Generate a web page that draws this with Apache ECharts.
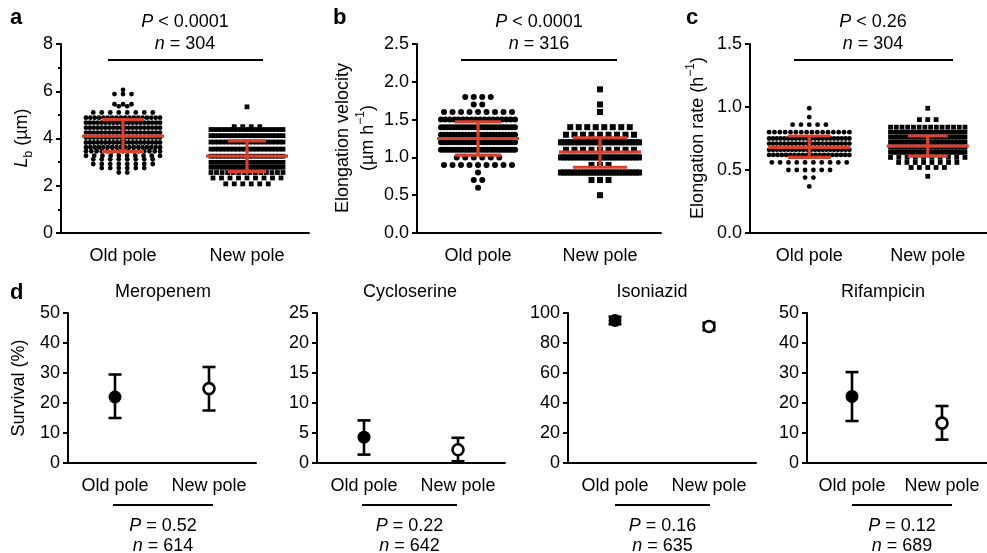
<!DOCTYPE html>
<html>
<head>
<meta charset="utf-8">
<script src="https://cdn.jsdelivr.net/npm/echarts@6.0.0/dist/echarts.min.js"></script>
<title>Old pole / new pole</title>
</head>
<body style="margin:0">
<div id="container" style="width:987px;height:553px"></div>
<script>
var groups = ['Old pole', 'New pole'];

// dot plots: rows of [value, number of cells]
var lbOld = [[6.06,1],[5.88,3],[5.45,3],[5.36,2],[5.1,8],[4.88,18],[4.67,20],[4.46,20],[4.25,20],[4.04,20],[3.83,20],[3.63,18],[3.46,15],[3.27,10],[3.12,8],[2.92,8],[2.75,6],[2.56,2]];
var lbNew = [[5.34,1],[4.5,4],[4.38,18],[4.12,20],[3.85,20],[3.55,20],[3.25,20],[2.99,20],[2.78,18],[2.56,14],[2.33,9],[2.08,6]];
var lbStats = [[4.1, 3.45, 4.8], [3.25, 2.6, 3.9]];          // mean, mean-SD, mean+SD

var velOld = [[1.8,4],[1.7,2],[1.6,9],[1.5,18],[1.4,25],[1.3,25],[1.2,25],[1.1,28],[1.0,6],[0.9,9],[0.8,1],[0.7,2],[0.6,1]];
var velNew = [[1.9,1],[1.7,1],[1.6,1],[1.4,8],[1.3,9],[1.2,24],[1.1,9],[1.0,25],[0.9,3],[0.8,25],[0.7,3],[0.5,1]];
var velStats = [[1.25, 1.03, 1.47], [1.07, 0.87, 1.26]];

var rateOld = [[0.99,1],[0.92,1],[0.86,5],[0.8,16],[0.75,22],[0.71,22],[0.66,22],[0.62,20],[0.56,10],[0.5,6],[0.44,2],[0.37,1]];
var rateNew = [[0.99,1],[0.9,3],[0.84,14],[0.8,20],[0.76,22],[0.72,22],[0.68,22],[0.64,20],[0.6,10],[0.56,8],[0.52,5],[0.45,1]];
var rateStats = [[0.68, 0.6, 0.77], [0.69, 0.61, 0.77]];

var topMax = [8, 2.5, 1.5];
var topInterval = [2, 0.5, 0.5];
var topP = ['< 0.0001', '< 0.0001', '< 0.26'];
var topN = [304, 316, 304];

// survival: [mean, low, high] in %
var drugs = ['Meropenem', 'Cycloserine', 'Isoniazid', 'Rifampicin'];
var survOld = [[22, 15, 29.5], [4.3, 1.4, 7.1], [95, 92.5, 97.5], [22.2, 14, 30.3]];
var survNew = [[24.8, 17.5, 32], [2.2, 0.3, 4.2], [91, 88.5, 93.5], [13.3, 7.8, 19]];
var survMax = [50, 25, 100, 50];
var survInterval = [10, 5, 20, 10];
var survP = ['0.52', '0.22', '0.16', '0.12'];
var survN = [614, 642, 635, 689];

var FONT = 'Liberation Sans, Arial, Helvetica, sans-serif';
var RED = '#d8412d';

var topGrids = [
  {left: 61, top: 44, width: 248, height: 189},
  {left: 417, top: 44, width: 244, height: 189},
  {left: 750, top: 44, width: 242, height: 189}
];
var botGrids = [
  {left: 68, top: 313, width: 188, height: 150},
  {left: 317, top: 313, width: 188, height: 150},
  {left: 568, top: 313, width: 188, height: 150},
  {left: 807, top: 313, width: 188, height: 150}
];
var topRows = [[lbOld, lbNew], [velOld, velNew], [rateOld, rateNew]];
var topStats = [lbStats, velStats, rateStats];
var dotSize = [4.8, 6, 4.8];
var spread = [[74, 72], [74, 78], [82, 76]];
var capW = [[42, 38], [46, 54], [43, 40]];

// spread equal values side by side around the group centre
function swarm(rows, idx, gridW, maxW, maxStep) {
  var unit = gridW / 2;
  var pts = [];
  rows.forEach(function (r) {
    var n = r[1];
    var step = n > 1 ? Math.min(maxStep, maxW / (n - 1)) : 0;
    for (var i = 0; i < n; i++) {
      pts.push([idx + (i - (n - 1) / 2) * step / unit, r[0]]);
    }
  });
  return pts;
}

function hline(c, w, st) {
  return {type: 'line', shape: {x1: c[0] - w / 2, y1: c[1], x2: c[0] + w / 2, y2: c[1]}, style: st};
}

function barItem(meanW, caps, color, lw) {
  return function (params, api) {
    var x = api.value(0);
    var m = api.coord([x, api.value(1)]);
    var lo = api.coord([x, api.value(2)]);
    var hi = api.coord([x, api.value(3)]);
    var st = {stroke: color, lineWidth: lw};
    var cw = caps[params.dataIndex];
    var kids = [
      {type: 'line', shape: {x1: m[0], y1: lo[1], x2: m[0], y2: hi[1]}, style: st},
      hline(lo, cw, st),
      hline(hi, cw, st)
    ];
    if (meanW) kids.push(hline(m, meanW, st));
    return {type: 'group', children: kids};
  };
}

var grid = [], xAxis = [], yAxis = [], series = [];

function addAxes(g, i, max, interval, fmt, minor) {
  grid.push(g);
  xAxis.push({
    type: 'category', gridIndex: i, data: groups,
    axisLine: {onZero: false, lineStyle: {color: '#000', width: 2}},
    axisTick: {alignWithLabel: true, length: 5, lineStyle: {color: '#000', width: 2}},
    axisLabel: {color: '#000', fontSize: 18, fontFamily: FONT, margin: 14, interval: 0},
    splitLine: {show: false}
  });
  xAxis.push({type: 'value', gridIndex: i, min: -0.5, max: 1.5, show: false});
  yAxis.push({
    type: 'value', gridIndex: i, min: 0, max: max, interval: interval,
    axisLine: {show: true, onZero: false, lineStyle: {color: '#000', width: 2}},
    axisTick: {show: true, length: 5, lineStyle: {color: '#000', width: 2}},
    minorTick: {show: !!minor, splitNumber: 2, length: 3, lineStyle: {color: '#000', width: 2}},
    axisLabel: {color: '#000', fontSize: 18, fontFamily: FONT, margin: 8, formatter: fmt},
    splitLine: {show: false}
  });
}

topGrids.forEach(function (g, i) {
  addAxes(g, i, topMax[i], topInterval[i], i === 0 ? '{value}' : function (v) { return v.toFixed(1); }, i === 0);
  [0, 1].forEach(function (k) {
    series.push({
      type: 'scatter', xAxisIndex: 2 * i + 1, yAxisIndex: i,
      symbol: k === 0 ? 'circle' : 'rect', symbolSize: dotSize[i],
      itemStyle: {color: '#000', opacity: 1},
      data: swarm(topRows[i][k], k, g.width, spread[i][k], 8.5),
      silent: true, z: 2
    });
  });
  series.push({
    type: 'custom', xAxisIndex: 2 * i + 1, yAxisIndex: i, z: 3, silent: true,
    renderItem: barItem(82, capW[i], RED, 3.2),
    data: topStats[i].map(function (s, k) { return [k].concat(s); })
  });
});

botGrids.forEach(function (g, j) {
  var i = j + 3;
  addAxes(g, i, survMax[j], survInterval[j], '{value}', false);
  series.push({
    type: 'custom', xAxisIndex: 2 * i + 1, yAxisIndex: i, z: 2, silent: true,
    renderItem: barItem(0, [13, 13], '#000', 2.6),
    data: [[0].concat(survOld[j]), [1].concat(survNew[j])]
  });
  series.push({
    type: 'scatter', xAxisIndex: 2 * i + 1, yAxisIndex: i, z: 3, silent: true,
    symbol: 'circle', symbolSize: 13, itemStyle: {color: '#000', opacity: 1},
    data: [[0, survOld[j][0]]]
  });
  series.push({
    type: 'scatter', xAxisIndex: 2 * i + 1, yAxisIndex: i, z: 3, silent: true,
    symbol: 'circle', symbolSize: 11,
    itemStyle: {color: '#fff', borderColor: '#000', borderWidth: 2.6, opacity: 1},
    data: [[1, survNew[j][0]]]
  });
});

var rich = {
  i: {fontStyle: 'italic', fontSize: 18, fontFamily: FONT, lineHeight: 26},
  sub: {fontSize: 12, fontFamily: FONT, verticalAlign: 'bottom', lineHeight: 26},
  sup: {fontSize: 12, fontFamily: FONT, verticalAlign: 'top', lineHeight: 26},
  t: {fontSize: 18, fontFamily: FONT, lineHeight: 26}
};
function txt(x, y, s, opt) {
  opt = opt || {};
  return {
    type: 'text', x: x, y: y, rotation: opt.rot || 0, silent: true,
    style: {
      text: s, rich: rich, fill: '#000',
      fontSize: opt.size || 18, fontFamily: FONT, fontWeight: opt.bold ? 'bold' : 'normal',
      align: opt.align || 'center', verticalAlign: 'middle'
    }
  };
}
function rule(x1, x2, y) {
  return {type: 'line', silent: true, shape: {x1: x1, y1: y, x2: x2, y2: y}, style: {stroke: '#000', lineWidth: 1.8}};
}

var graphic = [
  txt(10, 18, 'a', {bold: true, size: 22, align: 'left'}),
  txt(333, 18, 'b', {bold: true, size: 22, align: 'left'}),
  txt(686, 18, 'c', {bold: true, size: 22, align: 'left'}),
  txt(10, 293, 'd', {bold: true, size: 22, align: 'left'}),
  txt(22, 138, '{i|L}{sub|b}{t| (µm)}', {rot: Math.PI / 2}),
  txt(343, 138, 'Elongation velocity', {rot: Math.PI / 2}),
  txt(368, 138, '{t|(µm h}{sup|−1}{t|)}', {rot: Math.PI / 2}),
  txt(698, 138, '{t|Elongation rate (h}{sup|−1}{t|)}', {rot: Math.PI / 2}),
  txt(19, 388, 'Survival (%)', {rot: Math.PI / 2})
];

var topCx = [185, 539, 873];
var topLine = [[108, 263], [461, 617], [794, 953]];
topCx.forEach(function (cx, i) {
  graphic.push(txt(cx, 22, '{i|P}{t| ' + topP[i] + '}'));
  graphic.push(txt(cx, 44, '{i|n}{t| = ' + topN[i] + '}'));
  graphic.push(rule(topLine[i][0], topLine[i][1], 60));
});

var titleCx = [163, 410, 652, 883];
var botLine = [[113, 213], [362, 457], [615, 710], [852, 952]];
drugs.forEach(function (d, j) {
  var cx = (botLine[j][0] + botLine[j][1]) / 2;
  graphic.push(txt(titleCx[j], 292, d));
  graphic.push(rule(botLine[j][0], botLine[j][1], 505));
  graphic.push(txt(cx, 526, '{i|P}{t| = ' + survP[j] + '}'));
  graphic.push(txt(cx, 546, '{i|n}{t| = ' + survN[j] + '}'));
});

var chart = echarts.init(document.getElementById('container'), null, {renderer: 'canvas'});
chart.setOption({
  backgroundColor: '#fff',
  animation: false,
  textStyle: {fontFamily: FONT},
  grid: grid,
  xAxis: xAxis,
  yAxis: yAxis,
  series: series,
  graphic: graphic
});
</script>
</body>
</html>
